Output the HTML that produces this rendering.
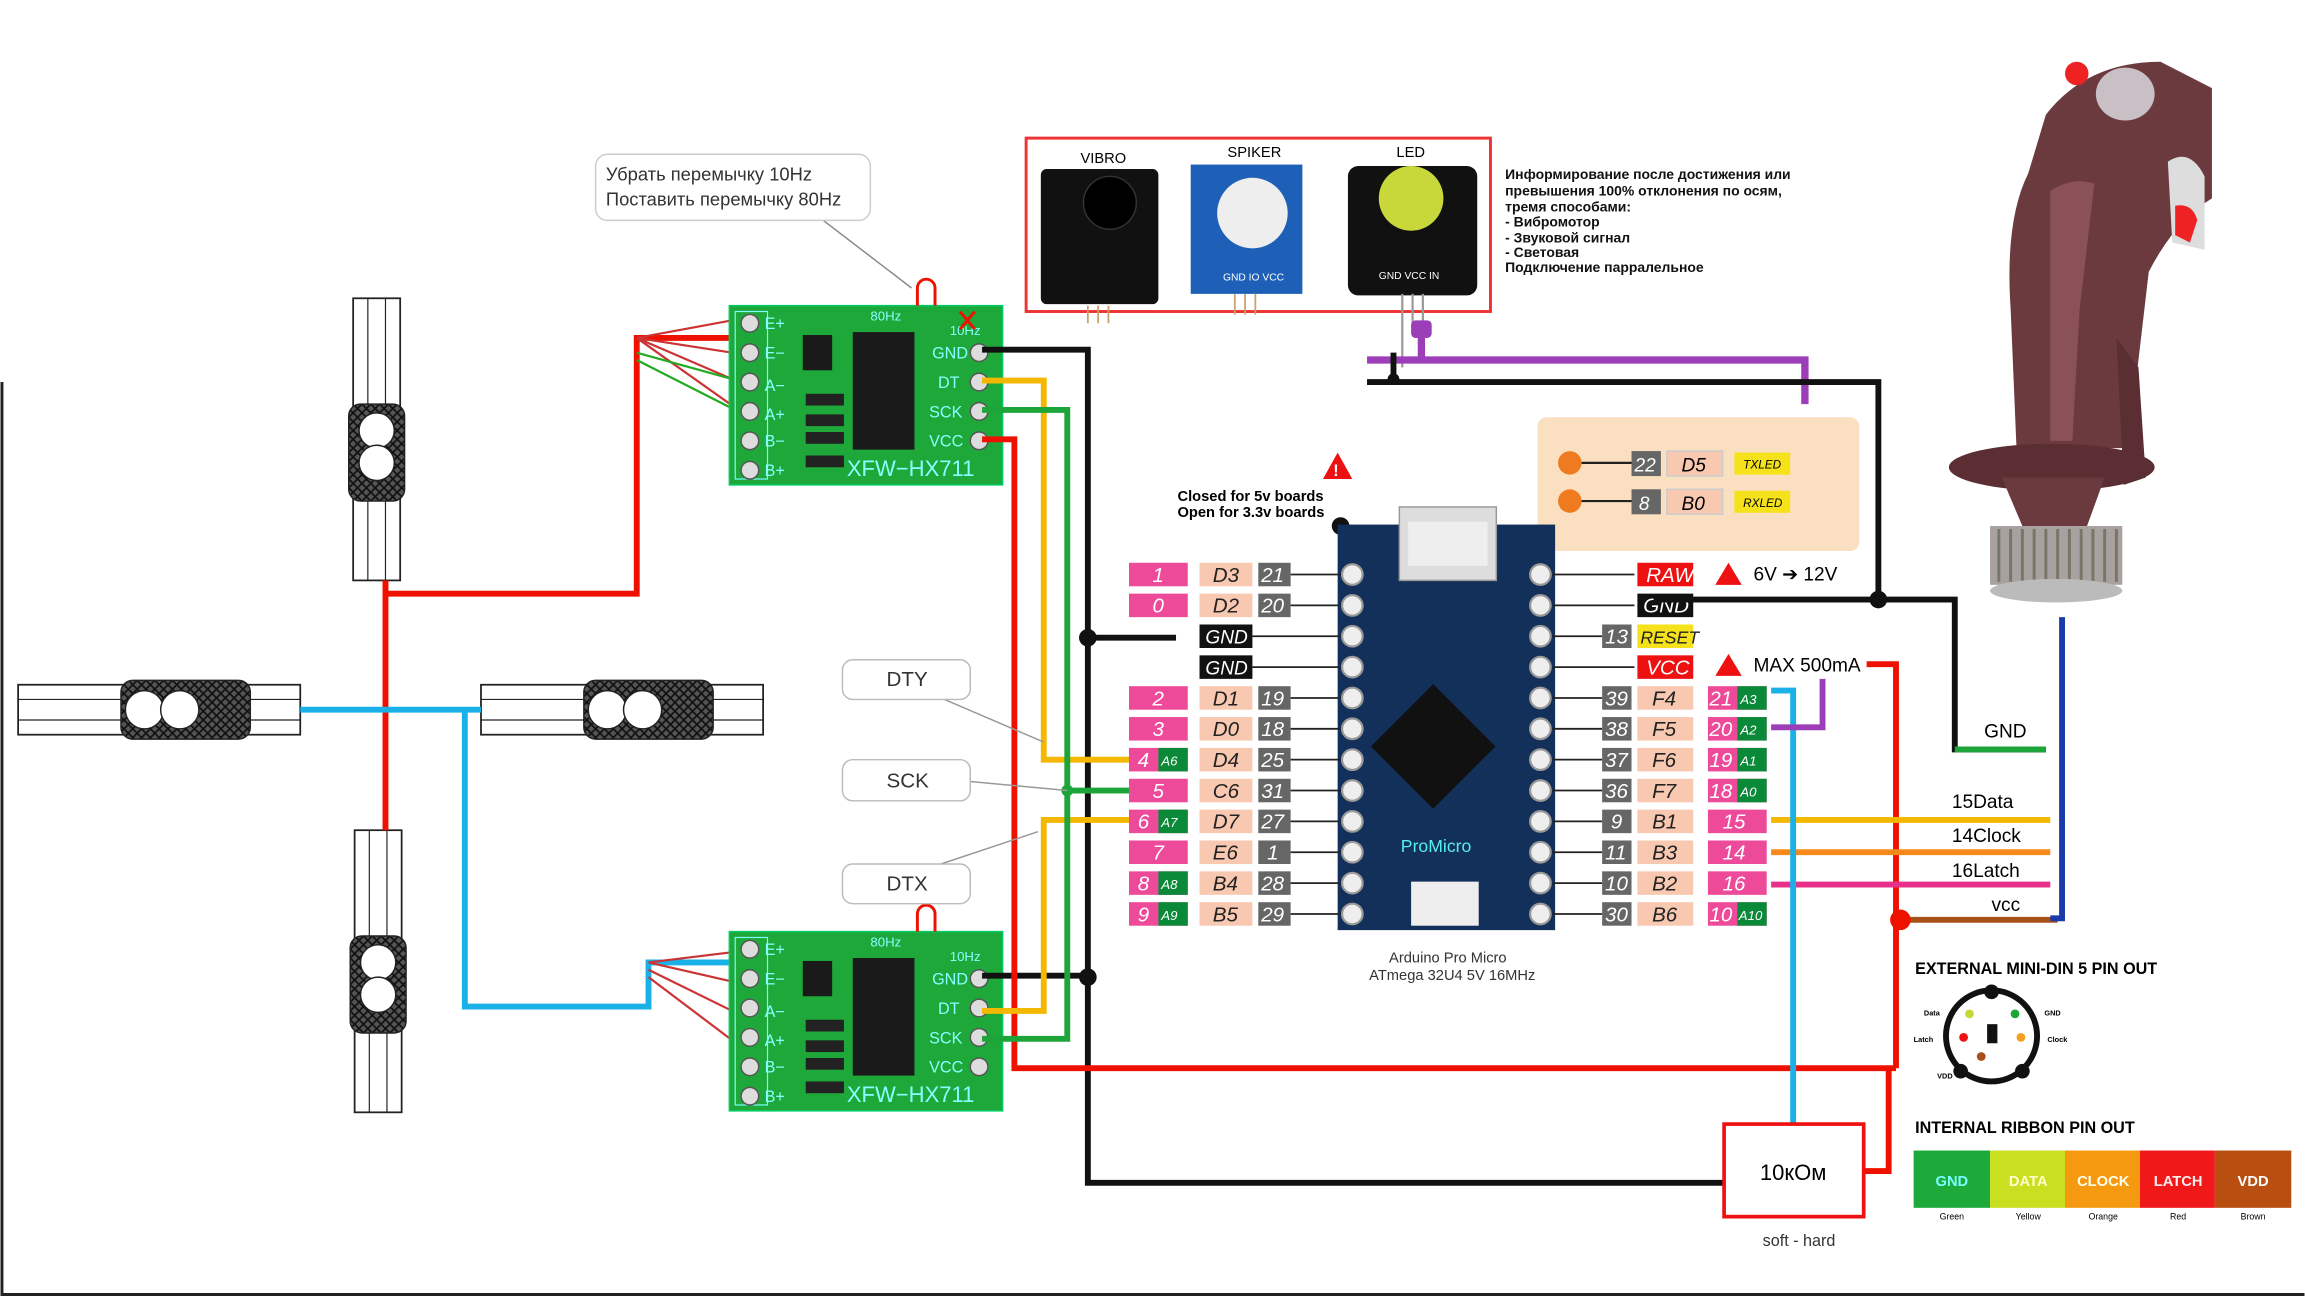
<!DOCTYPE html>
<html><head><meta charset="utf-8"><style>
html,body{margin:0;padding:0;background:#fff}
svg{display:block}
text{font-family:"Liberation Sans","DejaVu Sans",sans-serif}
</style></head><body>
<svg width="2305" height="1296" viewBox="0 0 1568 882" xmlns="http://www.w3.org/2000/svg">
<defs>
<pattern id="knurl" width="6" height="6" patternUnits="userSpaceOnUse">
<rect width="6" height="6" fill="#555"/><path d="M0 0L6 6M6 0L0 6" stroke="#111" stroke-width="1.2"/>
</pattern>
<g id="hx">
<rect x="0" y="0" width="186" height="122" fill="#1fa83a" stroke="#0c6"/>
<rect x="4" y="4" width="22" height="114" fill="none" stroke="#7ff" stroke-width="0.8"/>
<g fill="#ddd" stroke="#555"><circle cx="14" cy="12" r="6"/><circle cx="14" cy="32" r="6"/><circle cx="14" cy="52" r="6"/><circle cx="14" cy="72" r="6"/><circle cx="14" cy="92" r="6"/><circle cx="14" cy="112" r="6"/>
<circle cx="170" cy="32" r="6"/><circle cx="170" cy="52" r="6"/><circle cx="170" cy="72" r="6"/><circle cx="170" cy="92" r="6"/></g>
<g font-family="Liberation Serif,serif" font-size="11" fill="#8ff"><text x="24" y="16">E+</text><text x="24" y="36">E−</text><text x="24" y="58">A−</text><text x="24" y="78">A+</text><text x="24" y="96">B−</text><text x="24" y="116">B+</text>
<text x="138" y="36">GND</text><text x="142" y="56">DT</text><text x="136" y="76">SCK</text><text x="136" y="96">VCC</text>
<text x="80" y="116" font-size="15">XFW−HX711</text><text x="96" y="10" font-size="9">80Hz</text><text x="150" y="20" font-size="9">10Hz</text></g>
<rect x="84" y="18" width="42" height="80" fill="#1a1a1a"/>
<rect x="50" y="20" width="20" height="24" fill="#1a1a1a"/>
<g fill="#222"><rect x="52" y="60" width="26" height="8"/><rect x="52" y="74" width="26" height="8"/><rect x="52" y="86" width="26" height="8"/><rect x="52" y="102" width="26" height="8"/></g>
</g>
<g id="cellV">
<rect x="0" y="0" width="32" height="192" fill="#fff" stroke="#222" stroke-width="1.2"/>
<line x1="10" y1="0" x2="10" y2="192" stroke="#222" stroke-width="0.8"/><line x1="22" y1="0" x2="22" y2="192" stroke="#222" stroke-width="0.8"/>
<rect x="-3" y="72" width="38" height="66" rx="8" fill="url(#knurl)" stroke="#222"/>
<circle cx="16" cy="90" r="12" fill="#fff" stroke="#222"/><circle cx="16" cy="112" r="12" fill="#fff" stroke="#222"/>
</g>
<g id="cellH">
<rect x="0" y="0" width="192" height="34" fill="#fff" stroke="#222" stroke-width="1.2"/>
<line x1="0" y1="10" x2="192" y2="10" stroke="#222" stroke-width="0.8"/><line x1="0" y1="24" x2="192" y2="24" stroke="#222" stroke-width="0.8"/>
<rect x="70" y="-3" width="88" height="40" rx="8" fill="url(#knurl)" stroke="#222"/>
<circle cx="86" cy="17" r="13" fill="#fff" stroke="#222"/><circle cx="110" cy="17" r="13" fill="#fff" stroke="#222"/>
</g>
</defs>

<line x1="1" y1="260" x2="1" y2="882" stroke="#222" stroke-width="2"/>
<line x1="0" y1="881" x2="1568" y2="881" stroke="#222" stroke-width="2"/>

<use href="#cellV" x="240" y="203"/>
<use href="#cellV" x="241" y="565"/>
<use href="#cellH" x="12" y="466"/>
<use href="#cellH" x="327" y="466"/>

<g fill="none" stroke-width="4">
<path d="M262 395V565M262 404H433V230H498" stroke="#e10"/>
<path d="M204 483H327M316 483V685H441V655H498" stroke="#1ab0e8"/>
</g>
<g stroke-width="1.5" fill="none">
<path d="M433 230L498 218M433 230L498 240M433 230L498 258M433 230L498 276" stroke="#c33"/>
<path d="M433 240L498 258M433 245L498 278" stroke="#2a2"/>
<path d="M441 655L498 648M441 655L498 668M441 660L498 688M441 665L498 708" stroke="#c33"/>
</g>

<use href="#hx" x="496" y="208"/>
<use href="#hx" x="496" y="634"/>
<path d="M624 208v-12a6 6 0 0 1 12 0v12" fill="none" stroke="#e10" stroke-width="2"/>
<path d="M624 634v-12a6 6 0 0 1 12 0v12" fill="none" stroke="#e10" stroke-width="2"/>
<path d="M653 212l10 12M663 212l-10 12" stroke="#e10" stroke-width="2"/>

<path d="M560 150L620 196" stroke="#888"/>
<rect x="405" y="105" width="187" height="45" rx="8" fill="#fff" stroke="#ccc"/>
<text x="412" y="123" font-size="12.5" fill="#333">Убрать перемычку 10Hz</text>
<text x="412" y="140" font-size="12.5" fill="#333">Поставить перемычку 80Hz</text>

<g fill="none" stroke-width="4">
<path d="M668 238H740V805H1173" stroke="#111"/>
<path d="M668 664H740" stroke="#111"/>
<path d="M668 259H710V517H768" stroke="#f5b800"/>
<path d="M668 279H726V538H768" stroke="#1ea53a"/>
<path d="M668 299H690V727H1290" stroke="#e10"/>
<path d="M668 688H710V558H768" stroke="#f5b800"/>
<path d="M668 707H726V538" stroke="#1ea53a"/>
<path d="M740 434H800" stroke="#111"/>
</g>
<circle cx="740" cy="434" r="6" fill="#111"/><circle cx="740" cy="665" r="6" fill="#111"/>
<circle cx="726" cy="538" r="4" fill="#1ea53a"/>

<g font-size="14" fill="#333">
<path d="M640 475L710 505M640 530L726 538M640 588L706 566" stroke="#999" fill="none"/>
<rect x="573" y="449" width="87" height="27" rx="7" fill="#fff" stroke="#bbb"/><text x="603" y="467">DTY</text>
<rect x="573" y="517" width="87" height="28" rx="7" fill="#fff" stroke="#bbb"/><text x="603" y="536">SCK</text>
<rect x="573" y="588" width="87" height="27" rx="7" fill="#fff" stroke="#bbb"/><text x="603" y="606">DTX</text>
</g>

<rect x="698" y="94" width="316" height="118" fill="#fff" stroke="#e33" stroke-width="2"/>
<text x="735" y="111" font-size="10">VIBRO</text><text x="835" y="107" font-size="10">SPIKER</text><text x="950" y="107" font-size="10">LED</text>
<rect x="708" y="115" width="80" height="92" rx="4" fill="#111"/>
<circle cx="755" cy="138" r="18" fill="#000" stroke="#333"/>
<rect x="810" y="112" width="76" height="88" fill="#1e5fb8"/>
<circle cx="852" cy="145" r="24" fill="#eee"/>
<text x="832" y="191" font-size="7" fill="#fff">GND IO VCC</text>
<rect x="917" y="113" width="88" height="88" rx="7" fill="#111"/>
<circle cx="960" cy="135" r="22" fill="#c8d83a"/>
<text x="938" y="190" font-size="7" fill="#fff">GND VCC IN</text>
<g stroke="#c9a070" stroke-width="1.2"><path d="M740 208v12M747 208v12M754 208v12M840 200v14M847 200v14M854 200v14"/></g>
<g stroke="#999" stroke-width="1.5"><path d="M954 200v50M961 200v25M968 200v25"/></g>
<path d="M930 245H1228V275M967 222v23" stroke="#9b3eb8" stroke-width="5" fill="none"/>
<rect x="960" y="218" width="14" height="12" rx="3" fill="#9b3eb8"/>
<path d="M930 260H1278V408M948 240v20" stroke="#111" stroke-width="4" fill="none"/>
<circle cx="948" cy="258" r="4" fill="#111"/>
<g font-size="9.5" font-weight="bold" fill="#111">
<text x="1024" y="122">Информирование после достижения или</text>
<text x="1024" y="133">превышения 100% отклонения по осям,</text>
<text x="1024" y="144">тремя способами:</text>
<text x="1024" y="154">- Вибромотор</text>
<text x="1024" y="165">- Звуковой сигнал</text>
<text x="1024" y="175">- Световая</text>
<text x="1024" y="185">Подключение парралельное</text>
</g>

<!-- joystick -->
<g>
<path d="M1392 78 Q1420 42 1470 42 L1505 60 L1505 135 Q1480 150 1462 185 L1448 305 L1372 305 L1368 210 Q1364 150 1380 118 Z" fill="#6a3a3e"/>
<path d="M1395 130 Q1410 120 1425 125 L1415 210 L1410 300 L1395 300 L1395 210 Z" fill="#8a5258"/>
<path d="M1475 110 Q1490 100 1500 120 L1500 170 L1478 165 Z" fill="#ddd"/>
<path d="M1480 140 Q1492 138 1495 150 L1490 165 L1480 160 Z" fill="#e22"/>
<ellipse cx="1446" cy="64" rx="20" ry="18" fill="#c8c0c4"/>
<circle cx="1413" cy="50" r="8" fill="#e22"/>
<path d="M1440 230 L1455 250 L1460 325 L1445 330 Z" fill="#5a2e32"/>
<ellipse cx="1396" cy="318" rx="70" ry="16" fill="#5a2e32"/>
<path d="M1362 325 H1432 L1420 358 H1376 Z" fill="#6a3a3e"/>
<rect x="1354" y="358" width="90" height="40" fill="#a9a0a0"/>
<path d="M1360 360v36M1368 360v36M1376 360v36M1384 360v36M1392 360v36M1400 360v36M1408 360v36M1416 360v36M1424 360v36M1432 360v36M1440 360v36" stroke="#776" stroke-width="2"/>
<ellipse cx="1399" cy="402" rx="45" ry="8" fill="#bbb"/>
</g>

<rect x="1046" y="284" width="219" height="91" rx="6" fill="#fae0c0"/>
<g font-style="italic" font-size="13">
<circle cx="1068" cy="315" r="8" fill="#f07a20"/><line x1="1076" y1="315" x2="1110" y2="315" stroke="#222" stroke-width="1.5"/>
<rect x="1110" y="307" width="20" height="17" fill="#666"/><text x="1112" y="321" fill="#fff">22</text>
<rect x="1134" y="307" width="38" height="17" fill="#f8c8b0" stroke="#ccc"/><text x="1144" y="321">D5</text>
<rect x="1180" y="308" width="38" height="15" fill="#f5e21a"/><text x="1186" y="319" font-size="8">TXLED</text>
<circle cx="1068" cy="341" r="8" fill="#f07a20"/><line x1="1076" y1="341" x2="1110" y2="341" stroke="#222" stroke-width="1.5"/>
<rect x="1110" y="333" width="20" height="17" fill="#666"/><text x="1115" y="347" fill="#fff">8</text>
<rect x="1134" y="333" width="38" height="17" fill="#f8c8b0" stroke="#ccc"/><text x="1144" y="347">B0</text>
<rect x="1180" y="334" width="38" height="15" fill="#f5e21a"/><text x="1186" y="345" font-size="8">RXLED</text>
</g>

<text x="801" y="341" font-size="10" font-weight="bold">Closed for 5v boards</text>
<text x="801" y="352" font-size="10" font-weight="bold">Open for 3.3v boards</text>
<path d="M910 308l10 18h-20z" fill="#e11"/><text x="907" y="324" fill="#fff" font-size="11" font-weight="bold">!</text>
<circle cx="912" cy="358" r="6" fill="#111"/>
<rect x="910" y="357" width="148" height="276" fill="#13305a"/>
<rect x="952" y="345" width="66" height="50" fill="#ddd" stroke="#999"/>
<rect x="958" y="355" width="54" height="30" fill="#eee"/>
<rect x="945" y="478" width="60" height="60" fill="#111" transform="rotate(45 975 508)"/>
<text x="953" y="580" font-size="12" fill="#5ee">ProMicro</text>
<rect x="960" y="600" width="46" height="30" fill="#eee"/>
<text x="985" y="655" font-size="10" text-anchor="middle" fill="#333">Arduino Pro Micro</text>
<text x="988" y="667" font-size="10" text-anchor="middle" fill="#333">ATmega 32U4 5V 16MHz</text>

<g>
<g fill="#eee" stroke="#999" stroke-width="1.5">
<circle cx="920" cy="391" r="7"/><circle cx="920" cy="412" r="7"/><circle cx="920" cy="433" r="7"/><circle cx="920" cy="454" r="7"/><circle cx="920" cy="475" r="7"/><circle cx="920" cy="496" r="7"/><circle cx="920" cy="517" r="7"/><circle cx="920" cy="538" r="7"/><circle cx="920" cy="559" r="7"/><circle cx="920" cy="580" r="7"/><circle cx="920" cy="601" r="7"/><circle cx="920" cy="622" r="7"/>
<circle cx="1048" cy="391" r="7"/><circle cx="1048" cy="412" r="7"/><circle cx="1048" cy="433" r="7"/><circle cx="1048" cy="454" r="7"/><circle cx="1048" cy="475" r="7"/><circle cx="1048" cy="496" r="7"/><circle cx="1048" cy="517" r="7"/><circle cx="1048" cy="538" r="7"/><circle cx="1048" cy="559" r="7"/><circle cx="1048" cy="580" r="7"/><circle cx="1048" cy="601" r="7"/><circle cx="1048" cy="622" r="7"/>
</g>
<g stroke="#222" stroke-width="1.2">
<path d="M878 391H912M878 412H912M852 433H912M852 454H912M878 475H912M878 496H912M878 517H912M878 538H912M878 559H912M878 580H912M878 601H912M878 622H912"/>
<path d="M1056 391H1112M1056 412H1112M1056 433H1090M1056 454H1112M1056 475H1090M1056 496H1090M1056 517H1090M1056 538H1090M1056 559H1090M1056 580H1090M1056 601H1090M1056 622H1090"/>
</g>
</g>

<g font-style="italic" font-size="14">
<g fill="#ee4a9a"><rect x="768" y="383" width="40" height="16"/><rect x="768" y="404" width="40" height="16"/><rect x="768" y="467" width="40" height="16"/><rect x="768" y="488" width="40" height="16"/><rect x="768" y="509" width="40" height="16"/><rect x="768" y="530" width="40" height="16"/><rect x="768" y="551" width="40" height="16"/><rect x="768" y="572" width="40" height="16"/><rect x="768" y="593" width="40" height="16"/><rect x="768" y="614" width="40" height="16"/></g>
<g fill="#0a8a38"><rect x="788" y="509" width="20" height="16"/><rect x="788" y="551" width="20" height="16"/><rect x="788" y="593" width="20" height="16"/><rect x="788" y="614" width="20" height="16"/></g>
<g fill="#fff"><text x="784" y="396">1</text><text x="784" y="417">0</text><text x="784" y="480">2</text><text x="784" y="501">3</text><text x="774" y="522">4</text><text x="784" y="543">5</text><text x="774" y="564">6</text><text x="784" y="585">7</text><text x="774" y="606">8</text><text x="774" y="627">9</text>
<g font-size="9"><text x="790" y="521">A6</text><text x="790" y="563">A7</text><text x="790" y="605">A8</text><text x="790" y="626">A9</text></g></g>
<g fill="#f8c8b0"><rect x="816" y="383" width="36" height="16"/><rect x="816" y="404" width="36" height="16"/><rect x="816" y="467" width="36" height="16"/><rect x="816" y="488" width="36" height="16"/><rect x="816" y="509" width="36" height="16"/><rect x="816" y="530" width="36" height="16"/><rect x="816" y="551" width="36" height="16"/><rect x="816" y="572" width="36" height="16"/><rect x="816" y="593" width="36" height="16"/><rect x="816" y="614" width="36" height="16"/></g>
<g fill="#222"><text x="825" y="396">D3</text><text x="825" y="417">D2</text><text x="825" y="480">D1</text><text x="825" y="501">D0</text><text x="825" y="522">D4</text><text x="825" y="543">C6</text><text x="825" y="564">D7</text><text x="825" y="585">E6</text><text x="825" y="606">B4</text><text x="825" y="627">B5</text></g>
<rect x="816" y="425" width="36" height="16" fill="#111"/><rect x="816" y="446" width="36" height="16" fill="#111"/>
<text x="820" y="438" fill="#fff" font-size="13">GND</text><text x="820" y="459" fill="#fff" font-size="13">GND</text>
<g fill="#666"><rect x="856" y="383" width="22" height="16"/><rect x="856" y="404" width="22" height="16"/><rect x="856" y="467" width="22" height="16"/><rect x="856" y="488" width="22" height="16"/><rect x="856" y="509" width="22" height="16"/><rect x="856" y="530" width="22" height="16"/><rect x="856" y="551" width="22" height="16"/><rect x="856" y="572" width="22" height="16"/><rect x="856" y="593" width="22" height="16"/><rect x="856" y="614" width="22" height="16"/></g>
<g fill="#fff"><text x="858" y="396">21</text><text x="858" y="417">20</text><text x="858" y="480">19</text><text x="858" y="501">18</text><text x="858" y="522">25</text><text x="858" y="543">31</text><text x="858" y="564">27</text><text x="862" y="585">1</text><text x="858" y="606">28</text><text x="858" y="627">29</text></g>

<rect x="1114" y="383" width="38" height="16" fill="#e11"/><text x="1120" y="396" fill="#fff">RAW</text>
<rect x="1114" y="404" width="38" height="16" fill="#111"/><text x="1118" y="417" fill="#fff">GND</text>
<rect x="1114" y="425" width="38" height="16" fill="#f5e21a"/><text x="1116" y="438" fill="#222" font-size="12">RESET</text>
<rect x="1114" y="446" width="38" height="16" fill="#e11"/><text x="1120" y="459" fill="#fff">VCC</text>
<g fill="#666"><rect x="1090" y="425" width="20" height="16"/><rect x="1090" y="467" width="20" height="16"/><rect x="1090" y="488" width="20" height="16"/><rect x="1090" y="509" width="20" height="16"/><rect x="1090" y="530" width="20" height="16"/><rect x="1090" y="551" width="20" height="16"/><rect x="1090" y="572" width="20" height="16"/><rect x="1090" y="593" width="20" height="16"/><rect x="1090" y="614" width="20" height="16"/></g>
<g fill="#fff"><text x="1092" y="438">13</text><text x="1092" y="480">39</text><text x="1092" y="501">38</text><text x="1092" y="522">37</text><text x="1092" y="543">36</text><text x="1096" y="564">9</text><text x="1092" y="585">11</text><text x="1092" y="606">10</text><text x="1092" y="627">30</text></g>
<g fill="#f8c8b0"><rect x="1114" y="467" width="38" height="16"/><rect x="1114" y="488" width="38" height="16"/><rect x="1114" y="509" width="38" height="16"/><rect x="1114" y="530" width="38" height="16"/><rect x="1114" y="551" width="38" height="16"/><rect x="1114" y="572" width="38" height="16"/><rect x="1114" y="593" width="38" height="16"/><rect x="1114" y="614" width="38" height="16"/></g>
<g fill="#222"><text x="1124" y="480">F4</text><text x="1124" y="501">F5</text><text x="1124" y="522">F6</text><text x="1124" y="543">F7</text><text x="1124" y="564">B1</text><text x="1124" y="585">B3</text><text x="1124" y="606">B2</text><text x="1124" y="627">B6</text></g>
<g fill="#ee4a9a"><rect x="1162" y="467" width="40" height="16"/><rect x="1162" y="488" width="40" height="16"/><rect x="1162" y="509" width="40" height="16"/><rect x="1162" y="530" width="40" height="16"/><rect x="1162" y="551" width="40" height="16"/><rect x="1162" y="572" width="40" height="16"/><rect x="1162" y="593" width="40" height="16"/><rect x="1162" y="614" width="40" height="16"/></g>
<g fill="#0a8a38"><rect x="1182" y="467" width="20" height="16"/><rect x="1182" y="488" width="20" height="16"/><rect x="1182" y="509" width="20" height="16"/><rect x="1182" y="530" width="20" height="16"/><rect x="1182" y="614" width="20" height="16"/></g>
<g fill="#fff"><text x="1163" y="480">21</text><text x="1163" y="501">20</text><text x="1163" y="522">19</text><text x="1163" y="543">18</text><text x="1172" y="564">15</text><text x="1172" y="585">14</text><text x="1172" y="606">16</text><text x="1163" y="627">10</text>
<g font-size="9"><text x="1184" y="479">A3</text><text x="1184" y="500">A2</text><text x="1184" y="521">A1</text><text x="1184" y="542">A0</text><text x="1183" y="626">A10</text></g></g>
</g>

<path d="M1176 383l9 15h-18z" fill="#e11"/><text x="1193" y="395" font-size="13">6V ➔ 12V</text>
<path d="M1176 445l9 15h-18z" fill="#e11"/><text x="1193" y="457" font-size="13">MAX  500mA</text>

<g fill="none" stroke-width="4">
<path d="M1125 408H1330V510H1392" stroke="#111"/>
<path d="M1330 510H1392" stroke="#1ea53a"/>
<path d="M1270 452H1290V727" stroke="#e10"/>
<path d="M1268 797H1285V727" stroke="#e10"/>
<path d="M1205 558H1395" stroke="#f5b800"/>
<path d="M1205 580H1395" stroke="#f58a1a"/>
<path d="M1205 602H1395" stroke="#e8308a"/>
<path d="M1293 626H1400" stroke="#a8501a"/>
<path d="M1403 420V625H1395" stroke="#1a3aa8"/>
<path d="M1205 470H1220V765" stroke="#1ab0e8"/>
<path d="M1205 495H1240V462" stroke="#9b3eb8"/>
</g>
<circle cx="1278" cy="408" r="6" fill="#111"/>
<circle cx="1293" cy="626" r="7" fill="#e10"/>
<g font-size="13"><text x="1350" y="502">GND</text><text x="1328" y="550">15Data</text><text x="1328" y="573">14Clock</text><text x="1328" y="597">16Latch</text><text x="1355" y="620">vcc</text></g>

<rect x="1173" y="765" width="95" height="63" fill="#fff" stroke="#e11" stroke-width="2.5"/>
<text x="1220" y="803" font-size="15" text-anchor="middle">10кОм</text>
<text x="1224" y="848" font-size="11" text-anchor="middle" fill="#333">soft - hard</text>

<text x="1303" y="663" font-size="11" font-weight="bold">EXTERNAL MINI-DIN 5 PIN OUT</text>
<circle cx="1355" cy="705" r="31" fill="#fff" stroke="#111" stroke-width="4"/>
<circle cx="1355" cy="675" r="5" fill="#111"/><circle cx="1334" cy="729" r="5" fill="#111"/><circle cx="1376" cy="729" r="5" fill="#111"/>
<rect x="1352" y="697" width="7" height="13" fill="#111"/>
<circle cx="1340" cy="690" r="3" fill="#c8d83a"/><circle cx="1371" cy="690" r="3" fill="#1ea53a"/><circle cx="1336" cy="706" r="3" fill="#e11"/><circle cx="1375" cy="706" r="3" fill="#f5a020"/><circle cx="1348" cy="719" r="3" fill="#a8501a"/>
<g font-size="5" font-weight="bold"><text x="1309" y="691">Data</text><text x="1391" y="691">GND</text><text x="1302" y="709">Latch</text><text x="1393" y="709">Clock</text><text x="1318" y="734">VDD</text></g>
<text x="1303" y="771" font-size="11" font-weight="bold">INTERNAL RIBBON PIN OUT</text>
<rect x="1302" y="783" width="52" height="39" fill="#1eaa3a"/><rect x="1354" y="783" width="51" height="39" fill="#c8e020"/><rect x="1405" y="783" width="51" height="39" fill="#f59a10"/><rect x="1456" y="783" width="51" height="39" fill="#f01818"/><rect x="1507" y="783" width="52" height="39" fill="#b84e10"/>
<g font-size="10" font-weight="bold" text-anchor="middle"><text x="1328" y="807" fill="#7ff">GND</text><text x="1380" y="807" fill="#ffc">DATA</text><text x="1431" y="807" fill="#ffe">CLOCK</text><text x="1482" y="807" fill="#fee">LATCH</text><text x="1533" y="807" fill="#fff">VDD</text></g>
<g font-size="6" text-anchor="middle"><text x="1328" y="830">Green</text><text x="1380" y="830">Yellow</text><text x="1431" y="830">Orange</text><text x="1482" y="830">Red</text><text x="1533" y="830">Brown</text></g>
</svg>
</body></html>
